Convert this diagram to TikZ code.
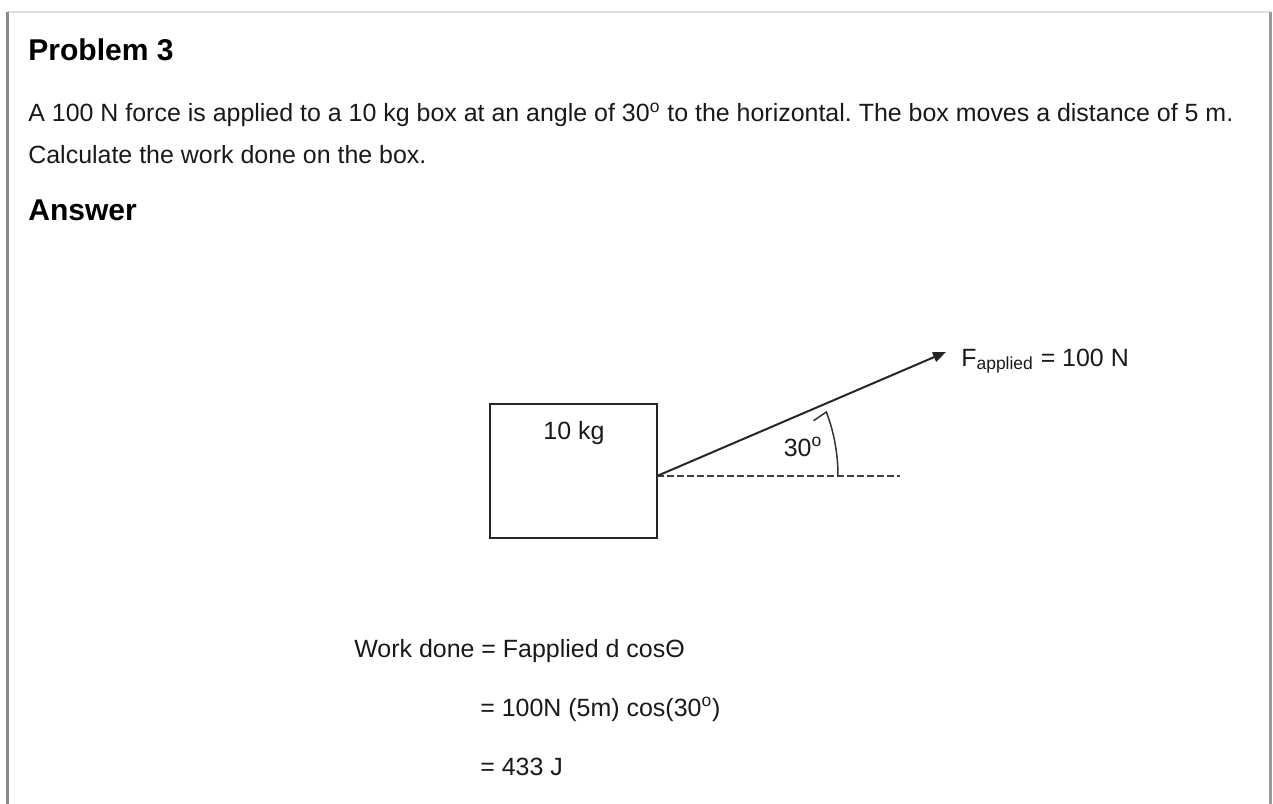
\documentclass[tikz,border=0pt]{standalone}
\usepackage{fontspec}
\setmainfont{Liberation Sans}
\usepackage{tikz}
\usetikzlibrary{calc,positioning,arrows.meta}
\frenchspacing

\begin{document}
\begin{tikzpicture}[
      txt/.style={anchor=base west, inner sep=0pt, black!90,
        font=\fontsize{14.2}{17}\selectfont},
      head/.style={anchor=base west, inner sep=0pt,
        font=\bfseries\fontsize{17.1}{20}\selectfont},
      box/.style={draw=black!85, line width=0.04cm},
      force/.style={-{Triangle[length=0.26cm, width=0.2cm]}, line width=0.04cm, black!85},
      guide/.style={black!75, line width=0.028cm, dash pattern=on 0.14cm off 0.06cm},
      anglearc/.style={-{Straight Barb[harpoon, length=0.07cm, width=0.6cm]}, line width=0.03cm, black!80},
    ]
    \useasboundingbox (0,0) rectangle (25.46,-16.08);
    % page frame
    \draw[black!12, line width=0.05cm] (0.14,-0.24) -- (25.40,-0.24);
    \draw[black!45, line width=0.07cm] (0.15,-0.24) -- (0.15,-16.2);
    \draw[black!40, line width=0.06cm] (25.40,-0.24) -- (25.40,-16.2);

    \node[head] (title) at (0.56,-1.22) {Problem 3};
    \node[txt] (q1) at (0.56,-2.44) {A 100 N force is applied to a 10 kg box at an angle of 30\textsuperscript{o} to the horizontal. The box moves a distance of 5 m.};
    \node[txt] (q2) at (0.56,-3.28) {Calculate the work done on the box.};
    \node[head] (answer) at (0.56,-4.40) {Answer};

    % box and force
    \draw[box] (9.80,-8.08) rectangle (13.14,-10.76);
    \node[txt, anchor=base] (mass) at (11.48,-8.78) {10 kg};
    \coordinate (o) at (13.14,-9.52);
    \coordinate (tip) at (18.92,-7.04);
    \coordinate (dend) at (18.00,-9.52);
    \draw[guide] (o) -- (dend);
    \draw[force] (o) -- (tip);
    \draw[anglearc] ($(o)+(3.62,0)$) arc[start angle=0, end angle=21, radius=3.62];
    \node[txt, anchor=base] (angle) at (16.06,-9.12) {30\textsuperscript{o}};
    \node[txt] (flabel) at (19.22,-7.32) {F\textsubscript{applied} = 100 N};

    % working
    \node[txt] (w1) at (7.08,-13.14) {Work done = Fapplied d cosΘ};
    \node[txt] (w2) at (9.60,-14.32) {= 100N (5m) cos(30\textsuperscript{o})};
    \node[txt] (w3) at (9.60,-15.50) {= 433 J};
  \end{tikzpicture}
\end{document}
